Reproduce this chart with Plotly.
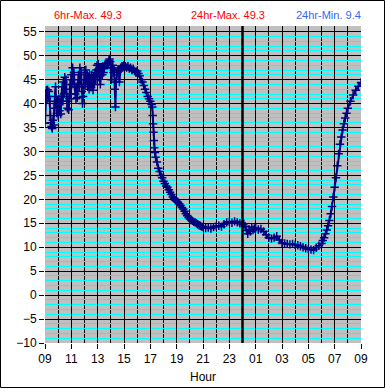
import plotly.graph_objects as go

# Hours since 09:00 and temperatures
hours = [
    0.00, 0.05, 0.10, 0.15, 0.20, 0.25, 0.30, 0.35, 0.40, 0.45, 0.50, 0.55, 0.60, 0.65, 0.70, 0.75,
    0.80, 0.85, 0.90, 0.95, 1.00, 1.05, 1.10, 1.15, 1.20, 1.25, 1.30, 1.35, 1.40, 1.45, 1.50, 1.55,
    1.60, 1.65, 1.70, 1.75, 1.80, 1.85, 1.90, 1.95, 2.00, 2.05, 2.10, 2.15, 2.20, 2.25, 2.30, 2.35,
    2.40, 2.45, 2.50, 2.55, 2.60, 2.65, 2.70, 2.75, 2.80, 2.85, 2.90, 2.95, 3.00, 3.05, 3.10, 3.15,
    3.20, 3.25, 3.30, 3.35, 3.40, 3.45, 3.50, 3.55, 3.60, 3.65, 3.70, 3.75, 3.80, 3.85, 3.90, 3.95,
    4.00, 4.05, 4.10, 4.15, 4.20, 4.25, 4.30, 4.35, 4.40, 4.45, 4.50, 4.55, 4.60, 4.65, 4.70, 4.75,
    4.80, 4.85, 4.90, 4.95, 5.00, 5.05, 5.10, 5.15, 5.20, 5.25, 5.30, 5.35, 5.40, 5.45, 5.50, 5.55,
    5.60, 5.65, 5.70, 5.75, 5.80, 5.85, 5.90, 5.95, 6.00,
    6.1, 6.2, 6.3, 6.4, 6.5, 6.6, 6.7, 6.8, 6.9, 7.0, 7.1, 7.2, 7.3, 7.4, 7.5, 7.6, 7.7, 7.8, 7.9,
    8.0, 8.1, 8.15, 8.18, 8.21, 8.24, 8.27, 8.30, 8.35, 8.4, 8.5, 8.6, 8.7, 8.8, 8.9,
    9.0, 9.1, 9.2, 9.3, 9.4, 9.5, 9.6, 9.7, 9.8, 9.9, 10.0, 10.1, 10.2, 10.3, 10.4, 10.5, 10.6,
    10.7, 10.8, 10.9, 11.0, 11.1, 11.2, 11.3, 11.4, 11.5, 11.6, 11.7, 11.8, 11.9, 12.0,
    12.2, 12.4, 12.6, 12.8, 13.0, 13.2, 13.4, 13.6, 13.8, 14.0, 14.2, 14.4, 14.6, 14.8,
    15.0, 15.1, 15.2, 15.3, 15.4, 15.5, 15.6, 15.7, 15.8, 15.9, 16.0,
    16.2, 16.4, 16.6, 16.8, 17.0, 17.2, 17.4, 17.6, 17.8, 18.0, 18.2, 18.4, 18.6, 18.8,
    19.0, 19.2, 19.4, 19.6, 19.8, 20.0, 20.2, 20.4, 20.6, 20.8, 21.0,
    21.1, 21.2, 21.3, 21.4, 21.5, 21.6, 21.7, 21.8, 21.9, 22.0, 22.1, 22.2, 22.3, 22.4,
    22.5, 22.6, 22.7, 22.8, 22.9, 23.0, 23.2, 23.4, 23.6, 23.8, 24.0,
]
temps = [
    35.9, 42.0, 42.8, 41.0, 42.9, 41.5, 42.5, 40.5, 37.5, 36.0, 35.2, 34.8, 36.5, 35.5, 39.0, 41.5,
    43.5, 40.0, 38.0, 40.5, 37.5, 41.0, 38.5, 40.0, 37.8, 41.5, 43.5, 40.5, 44.5, 42.0, 45.5, 43.0,
    45.0, 41.5, 39.0, 40.5, 38.7, 41.0, 44.0, 42.0, 46.0, 44.0, 47.5, 45.0, 46.5, 43.5, 42.0, 41.0,
    43.5, 41.2, 44.0, 46.0, 43.5, 47.5, 45.0, 46.5, 42.5, 40.0, 41.5, 44.0, 46.5, 44.0, 47.0, 45.0,
    46.0, 43.5, 45.5, 43.0, 46.0, 44.5, 43.4, 46.0, 44.5, 42.8, 45.5, 44.0, 46.5, 45.0, 47.0, 48.0,
    46.5, 48.3, 45.5, 47.5, 44.0, 46.5, 47.5, 46.0, 47.8, 46.5, 47.5, 48.0, 48.2, 48.0, 48.3, 48.0,
    48.5, 49.0, 49.3, 48.8, 47.5, 45.0, 47.5, 48.0, 46.5, 47.0, 43.0, 39.3, 44.5, 46.0, 46.8, 47.2,
    47.0, 44.5, 47.0, 47.5, 47.3, 47.8, 47.5, 47.8, 48.0,
    47.8, 47.5, 47.8, 47.3, 47.5, 47.0, 47.3, 46.8, 46.5, 46.8, 46.3, 45.8, 45.0, 44.5, 43.8, 43.0, 42.3, 41.5, 41.0,
    40.5, 39.8, 39.3, 37.5, 35.8, 34.0, 32.3, 30.8, 29.8, 28.8, 27.8, 26.5, 25.8, 25.0, 24.5,
    23.8, 23.3, 22.8, 22.5, 22.0, 21.5, 21.0, 20.5, 20.2, 19.8, 19.6, 19.4, 19.1, 18.7, 18.3, 18.0, 17.5,
    17.0, 16.6, 16.2, 15.9, 15.7, 15.5, 15.3, 15.2, 15.0, 14.8, 14.6, 14.5, 14.3, 14.2,
    14.0, 14.1, 13.9, 14.2, 14.4, 14.5, 14.3, 14.8, 15.2, 15.3, 15.1, 15.4, 15.2, 15.0,
    14.7, 14.9, 14.4, 13.5, 12.8, 13.7, 13.3, 14.2, 13.6, 13.9, 14.0,
    13.7, 13.8, 13.3, 12.6, 12.0, 11.8, 12.0, 12.3, 11.5, 10.9, 10.8, 10.7, 10.6, 10.7,
    10.5, 10.4, 10.2, 10.0, 9.8, 9.6, 9.5, 9.4, 9.9, 10.3, 10.8,
    11.4, 12.0, 12.8, 13.6, 14.5, 15.6, 17.0, 18.5, 20.5, 22.5, 24.5, 27.0, 29.5, 31.5,
    33.0, 34.5, 35.8, 37.0, 38.0, 39.0, 40.5, 41.8, 42.8, 43.6, 44.4,
]

x_tick_vals = [0, 2, 4, 6, 8, 10, 12, 14, 16, 18, 20, 22, 24]
x_tick_text = ["09", "11", "13", "15", "17", "19", "21", "23", "01", "03", "05", "07", "09"]
y_tick_vals = [-10, -5, 0, 5, 10, 15, 20, 25, 30, 35, 40, 45, 50, 55]
midnight_hour = 15

stat_labels = ["6hr-Max. 49.3", "24hr-Max. 49.3", "24hr-Min. 9.4"]
stat_colors = ["#FF0000", "#FF0000", "#3366FF"]
stat_x_px = [88, 228, 328]

W, H = 385, 388
ML, MR, MT, MB = 45, 24, 26, 45
PW, PH = W - ML - MR, H - MT - MB

fig = go.Figure()
fig.add_trace(go.Scatter(
    x=hours, y=temps, mode="lines+markers",
    line=dict(color="#000080", width=2),
    marker=dict(symbol="cross-thin", size=6, line=dict(color="#000080", width=1.5), color="#000080"),
    hoverinfo="skip", showlegend=False,
))

fig.add_shape(type="line", x0=midnight_hour, x1=midnight_hour, y0=0, y1=1,
              xref="x", yref="paper", line=dict(color="black", width=2.5))
# outer frame
fig.add_shape(type="rect", xref="paper", yref="paper",
              x0=-(ML - 0.5) / PW, x1=1 + (MR - 0.5) / PW,
              y0=-(MB - 0.5) / PH, y1=1 + (MT - 0.5) / PH,
              line=dict(color="black", width=1), fillcolor="rgba(0,0,0,0)", layer="above")

for txt, col, xp in zip(stat_labels, stat_colors, stat_x_px):
    fig.add_annotation(text=txt, x=(xp - ML) / PW, y=1 + (MT - 15) / PH, xref="paper", yref="paper",
                       showarrow=False, font=dict(color=col, size=11, family="Liberation Sans, Arial"),
                       xanchor="center", yanchor="middle")

fig.update_layout(
    width=W, height=H, margin=dict(l=ML, r=MR, t=MT, b=MB, pad=0, autoexpand=False),
    paper_bgcolor="white", plot_bgcolor="#C0C0C0",
    font=dict(family="Liberation Sans, Arial", size=12, color="black"),
    xaxis=dict(range=[0, 24], tickvals=x_tick_vals, ticktext=x_tick_text, automargin=False,
               ticks="outside", ticklen=5, tickcolor="black", tickwidth=1,
               showgrid=True, gridcolor="black", gridwidth=1,
               minor=dict(dtick=1, tick0=0, showgrid=True, gridcolor="black", gridwidth=1),
               zeroline=False, showline=False,
               title=dict(text="Hour", font=dict(size=12), standoff=7)),
    yaxis=dict(range=[-10, 56.2], tickvals=y_tick_vals, automargin=False,
               ticks="outside", ticklen=5, tickcolor="black", tickwidth=1,
               showgrid=True, gridcolor="black", gridwidth=1,
               minor=dict(dtick=1, tick0=0, showgrid=True, gridcolor="#00FFFF", gridwidth=1),
               zeroline=False, showline=False),
)

post = (
    "var gd=document.getElementById('{plot_id}');"
    "gd.style.display='block';"
    "var p=gd.parentElement; p.style.fontSize='0'; p.style.lineHeight='0'; p.style.height='388px'; p.style.overflow='hidden';"
    "document.body.style.margin='0'; document.body.style.overflow='hidden'; document.body.style.height='388px';"
    "document.documentElement.style.overflow='hidden'; document.documentElement.style.height='388px';"
)
fig.write_html("out.html", config={"displayModeBar": False}, post_script=post)
